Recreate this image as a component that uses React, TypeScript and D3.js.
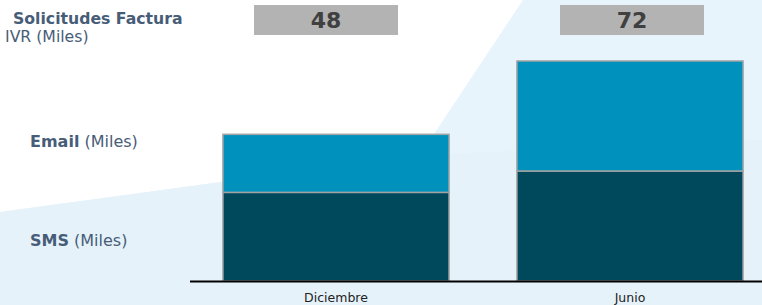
import * as d3 from 'd3';

const categories = ['Diciembre', 'Junio'];
const smsValues = [29, 36];
const emailValues = [19, 36];
const totalLabels = ['48', '72'];

const W = 762;
const H = 305;
const FONT = '"DejaVu Sans", Verdana, sans-serif';

export default function App() {
    const x = d3.scaleBand<string>()
        .domain(categories)
        .range([189, 777])
        .paddingInner(0.231)
        .paddingOuter(0.1155);

    const y = d3.scaleLinear()
        .domain([0, 72])
        .range([281, 61]);

    // the grey total boxes sit a little off the bar centres in the original
    const boxX = d3.scalePoint<string>()
        .domain(categories)
        .range([326, 632]);

    const stacked = d3.stack<{ cat: string; sms: number; email: number }>()
        .keys(['sms', 'email'])(categories.map((c, i) => ({ cat: c, sms: smsValues[i], email: emailValues[i] })));

    const colors: Record<string, string> = { sms: '#00485c', email: '#0091bd' };

    const bg = d3.line()([[523, 0], [W, 0], [W, H], [0, H], [0, 212], [420, 155]]) + 'Z';
    const bgLow = d3.line()([[0, 212], [420, 155], [W, 140], [W, H], [0, H]]) + 'Z';

    return (
        <svg width={W} height={H} style={{ position: 'fixed', left: 0, top: 0, background: '#fff' }}>
            <path d={bg} fill="#e8f4fb" />
            <path d={bgLow} fill="#e6f2fa" />

            {stacked.map(layer => layer.map((d, i) => (
                <rect key={layer.key + i}
                    x={x(categories[i])}
                    y={y(d[1])}
                    width={x.bandwidth()}
                    height={y(d[0]) - y(d[1])}
                    fill={colors[layer.key]}
                    stroke="#a3a3a3"
                    strokeWidth={1.5} />
            )))}

            <line x1={190} x2={W} y1={y(0) + 0.5} y2={y(0) + 0.5} stroke="#000" strokeWidth={2} />

            {categories.map((c, i) => (
                <g key={c}>
                    <rect x={boxX(c)! - 72} y={5} width={144} height={30} fill="#b3b3b3" />
                    <text x={boxX(c)} y={28} textAnchor="middle" fontFamily={FONT} fontWeight="bold"
                        fontSize={22} fill="#404040">{totalLabels[i]}</text>
                    <text x={x(c)! + x.bandwidth() / 2} y={302} textAnchor="middle" fontFamily={FONT}
                        fontSize={12.5} fill="#222">{c}</text>
                </g>
            ))}

            <text x={13} y={24} fontFamily={FONT} fontSize={15.7} fontWeight="bold" fill="#475d77">Solicitudes Factura</text>
            <text x={5} y={42} fontFamily={FONT} fontSize={15.7} fill="#475d77">IVR (Miles)</text>
            <text x={30} y={147} fontFamily={FONT} fontSize={16} fill="#475d77">
                <tspan fontWeight="bold">Email</tspan> (Miles)
            </text>
            <text x={30} y={246} fontFamily={FONT} fontSize={16} fill="#475d77">
                <tspan fontWeight="bold">SMS</tspan> (Miles)
            </text>
        </svg>
    );
}
